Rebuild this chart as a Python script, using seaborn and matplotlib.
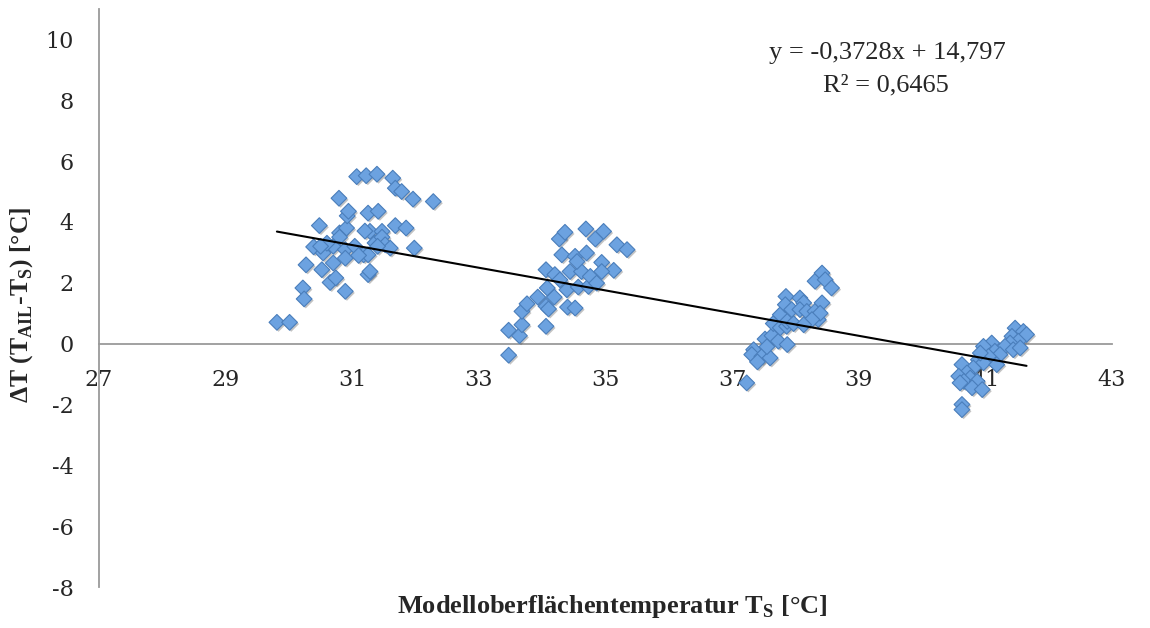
import numpy as np
import pandas as pd
import matplotlib
matplotlib.use("Agg")
import matplotlib.pyplot as plt
import matplotlib.patheffects as pe
import seaborn as sns

# ---- data ----
x_c1 = [29.81, 30.01, 30.22, 30.24, 30.27, 30.39, 30.48, 30.52, 30.54, 30.65, 30.70, 30.70, 30.74,
        30.79, 30.80, 30.89, 30.89, 30.89, 30.91, 30.92, 30.94, 31.04, 31.07, 31.18, 31.22, 31.25,
        31.25, 31.25, 31.28, 31.28, 31.36, 31.39, 31.41, 31.47, 31.47, 31.52, 31.60, 31.64, 31.68,
        31.68, 31.78, 31.85, 31.96, 31.98, 32.28, 30.60, 30.80, 31.10, 31.20, 30.50, 31.40]
y_c1 = [0.70, 0.70, 1.83, 1.47, 2.59, 3.18, 3.88, 2.43, 2.98, 2.01, 3.20, 2.65, 2.16,
        4.78, 3.64, 3.09, 2.81, 1.72, 3.80, 4.20, 4.35, 3.20, 5.49, 2.92, 5.52, 4.29,
        2.92, 2.27, 3.69, 2.37, 3.31, 5.57, 4.35, 3.69, 3.50, 3.25, 3.14, 5.44, 5.11,
        3.88, 5.00, 3.80, 4.75, 3.14, 4.67, 3.30, 3.50, 2.90, 3.70, 3.20, 3.20]

x_c2 = [33.47, 33.47, 33.64, 33.68, 34.06, 33.68, 33.76, 33.93, 34.06, 34.10, 34.19, 34.08, 34.40,
        34.52, 34.06, 34.20, 34.28, 34.39, 34.57, 34.73, 34.44, 34.62, 34.76, 34.86, 34.31, 34.52,
        34.70, 34.55, 34.94, 35.13, 34.94, 34.27, 34.36, 34.69, 34.84, 34.97, 35.18, 35.34]
y_c2 = [-0.38, 0.44, 0.26, 0.62, 0.57, 1.06, 1.31, 1.53, 1.23, 1.14, 1.53, 1.83, 1.20,
        1.17, 2.43, 2.27, 2.10, 1.77, 1.86, 1.88, 2.37, 2.37, 2.21, 1.99, 2.92, 2.87,
        2.98, 2.70, 2.67, 2.41, 2.37, 3.44, 3.66, 3.77, 3.44, 3.69, 3.25, 3.09]

x_c3 = [37.23, 37.34, 37.31, 37.47, 37.60, 37.52, 37.63, 37.73, 37.87, 37.65, 37.76, 37.86, 37.76,
        37.87, 37.97, 37.85, 37.84, 37.94, 38.07, 38.13, 38.07, 38.18, 38.31, 38.36, 38.42, 38.39,
        38.26, 38.13, 38.31, 38.42, 38.47, 38.57, 37.40, 37.55]
y_c3 = [-1.29, -0.20, -0.36, -0.42, -0.47, 0.15, 0.26, 0.08, -0.03, 0.66, 0.52, 0.57, 0.95,
        0.73, 0.66, 1.55, 1.28, 1.12, 1.50, 1.34, 1.12, 1.06, 1.06, 0.79, 1.34, 1.00,
        0.79, 0.62, 2.05, 2.32, 2.10, 1.83, -0.60, -0.10]

x_c4 = [41.47, 41.60, 41.65, 41.42, 41.52, 41.39, 41.31, 41.44, 41.55, 41.10, 40.97, 41.15, 41.23,
        41.05, 40.89, 40.97, 41.18, 40.92, 40.63, 40.81, 40.71, 40.58, 40.76, 40.66, 40.87, 40.79,
        40.95, 40.60, 40.63, 40.63]
y_c4 = [0.51, 0.40, 0.30, 0.24, 0.08, 0.02, -0.09, -0.20, -0.14, 0.02, -0.09, -0.25, -0.36,
        -0.42, -0.53, -0.63, -0.69, -0.31, -0.69, -0.80, -0.96, -1.07, -1.13, -1.24, -1.24, -1.45,
        -1.51, -1.29, -2.00, -2.17]

trend_slope = -0.3728
trend_intercept = 14.797
r_squared = "0,6465"

x_ticks = [27, 29, 31, 33, 35, 37, 39, 41, 43]
y_ticks = [-8, -6, -4, -2, 0, 2, 4, 6, 8, 10]

df = pd.DataFrame({
    "Ts": x_c1 + x_c2 + x_c3 + x_c4,
    "dT": y_c1 + y_c2 + y_c3 + y_c4,
})

# ---- style ----
sns.set_theme(style="white")
plt.rcParams["font.family"] = ["Liberation Serif", "DejaVu Serif"]
plt.rcParams["mathtext.fontset"] = "custom"
plt.rcParams["mathtext.rm"] = "Liberation Serif"
plt.rcParams["mathtext.bf"] = "Liberation Serif:bold"

fig = plt.figure(figsize=(11.5, 6.28), dpi=100, facecolor="white")
ax = fig.add_axes([99 / 1150, 1 - 587 / 628, (1112 - 99) / 1150, (587 - 9) / 628])
ax.set_facecolor("white")

sns.scatterplot(data=df, x="Ts", y="dT", ax=ax, marker="D", s=64,
                color="#6ca2e0", edgecolor="#4a7ebb", linewidth=0.8, zorder=3,
                path_effects=[pe.SimplePatchShadow(offset=(1.2, -1.2), shadow_rgbFace="#555555", alpha=0.35),
                              pe.Normal()])

xs = np.array([df["Ts"].min(), df["Ts"].max()])
sns.lineplot(x=xs, y=trend_slope * xs + trend_intercept, ax=ax, color="black", linewidth=1.5, zorder=4)

# spines first (moving a spine resets tick formatting)
for s in ["top", "right"]:
    ax.spines[s].set_visible(False)
ax.spines["bottom"].set_position(("data", 0))
for s in ["left", "bottom"]:
    ax.spines[s].set_color("#9a9a9a")
    ax.spines[s].set_linewidth(1.3)
ax.grid(False)

ax.set_xlim(27, 43)
ax.set_ylim(-8, 11)
ax.set_xticks(x_ticks)
ax.set_yticks(y_ticks)
ax.set_xticklabels([str(t) for t in x_ticks], fontfamily="DejaVu Serif", fontsize=16)
ax.set_yticklabels([str(t) for t in y_ticks], fontfamily="DejaVu Serif", fontsize=16)
ax.tick_params(axis="x", length=0, pad=18)
ax.tick_params(axis="y", length=0, pad=18)

ax.set_xlabel("")
ax.set_ylabel("")
fig.text(612 / 1150, 1 - 607 / 628, r"Modelloberflächentemperatur T$_{\mathbf{S}}$ [°C]",
         ha="center", va="center", fontsize=19, fontweight="bold")
fig.text(22 / 1150, 1 - 305 / 628, r"ΔT (T$_{\mathbf{AIL}}$-T$_{\mathbf{S}}$) [°C]",
         ha="center", va="center", rotation=90, fontsize=18.5, fontweight="bold")

ax.text(887 / 1150, 1 - 53 / 628, "y = -0,3728x + 14,797", transform=fig.transFigure,
        ha="center", va="center", fontsize=19)
ax.text(886 / 1150, 1 - 85 / 628, "R² = " + r_squared, transform=fig.transFigure,
        ha="center", va="center", fontsize=19)

fig.savefig("out.png", dpi=100, facecolor="white")
